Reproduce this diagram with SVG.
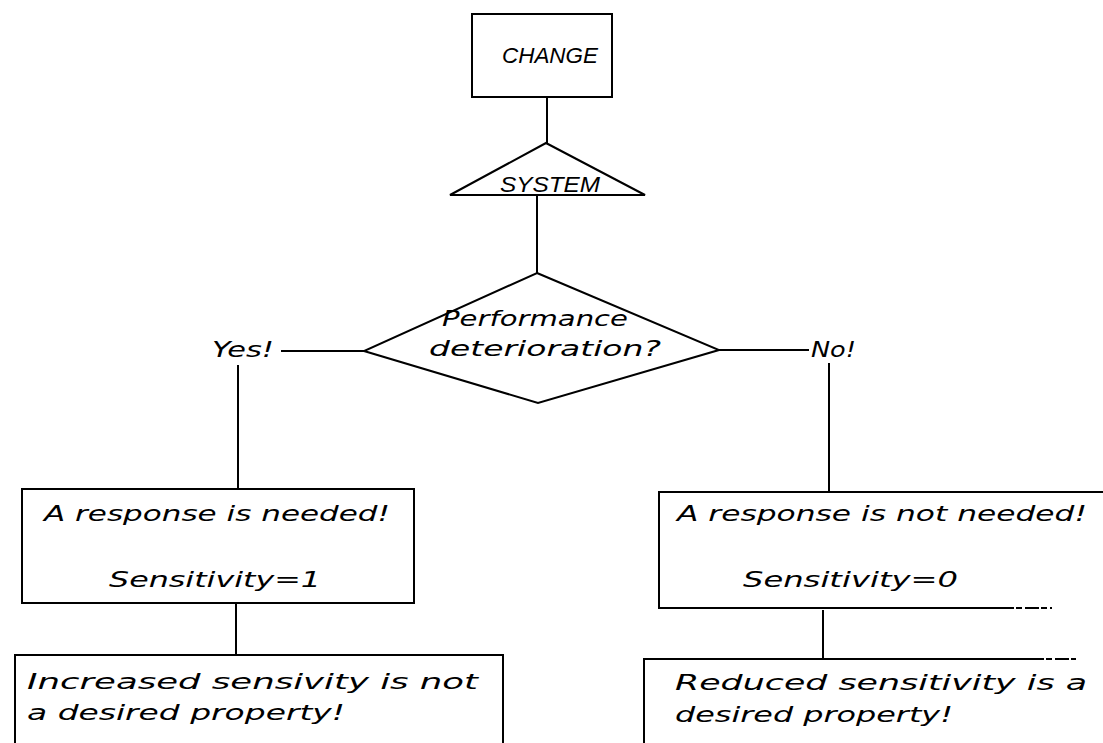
<svg xmlns="http://www.w3.org/2000/svg" width="1103" height="743" viewBox="0 0 1103 743">
  <style>
    .ln { stroke: #000; stroke-width: 2; fill: none; stroke-linejoin: miter; }
    .fade { stroke: #000; stroke-width: 2; fill: none; stroke-dasharray: 14 2 6 3; }
    .tx { font-family: "DejaVu Sans", "Liberation Sans", sans-serif; font-style: oblique; fill: #000; font-size: 21px; }
    .cap { font-family: "Liberation Sans", "DejaVu Sans", sans-serif; font-style: italic; fill: #000; font-size: 22px; }
  </style>
  <rect width="1103" height="743" fill="#fff"/>

  <g id="connectors">
    <line class="ln" x1="547" y1="97" x2="547" y2="143"/>
    <line class="ln" x1="537" y1="195" x2="537" y2="273"/>
    <line class="ln" x1="281" y1="351" x2="364" y2="351"/>
    <line class="ln" x1="719" y1="350" x2="809" y2="350"/>
    <line class="ln" x1="238" y1="365" x2="238" y2="489"/>
    <line class="ln" x1="829" y1="363" x2="829" y2="492"/>
    <line class="ln" x1="236" y1="603" x2="236" y2="656"/>
    <line class="ln" x1="823" y1="610" x2="823" y2="659"/>
  </g>

  <g id="change">
    <rect class="ln" x="472" y="14" width="140" height="83"/>
    <text class="cap" x="502" y="63" textLength="96" lengthAdjust="spacingAndGlyphs">CHANGE</text>
  </g>

  <g id="system">
    <polygon class="ln" points="546,143 645,195 450,195"/>
    <text class="cap" x="500" y="192" textLength="100" lengthAdjust="spacingAndGlyphs" font-size="23">SYSTEM</text>
  </g>

  <g id="decision">
    <polygon class="ln" points="537,273 719,350 538,403 364,351"/>
    <text class="tx" x="442" y="326" textLength="186" lengthAdjust="spacingAndGlyphs">Performance</text>
    <text class="tx" x="429" y="356" textLength="232" lengthAdjust="spacingAndGlyphs">deterioration?</text>
  </g>

  <g id="yes">
    <text class="tx" x="212" y="357" textLength="62" lengthAdjust="spacingAndGlyphs">Yes!</text>
  </g>

  <g id="no">
    <text class="tx" x="811" y="357" textLength="45" lengthAdjust="spacingAndGlyphs">No!</text>
  </g>

  <g id="response-needed">
    <rect class="ln" x="22" y="489" width="392" height="114"/>
    <text class="tx" x="44" y="521" textLength="346" lengthAdjust="spacingAndGlyphs">A response is needed!</text>
    <text class="tx" x="109" y="587" textLength="212" lengthAdjust="spacingAndGlyphs">Sensitivity=1</text>
  </g>

  <g id="response-not-needed">
    <polyline class="ln" points="1103,492 659,492 659,608 1000,608"/>
    <line class="fade" x1="1000" y1="608" x2="1052" y2="608"/>
    <text class="tx" x="677" y="521" textLength="410" lengthAdjust="spacingAndGlyphs">A response is not needed!</text>
    <text class="tx" x="743" y="587" textLength="215" lengthAdjust="spacingAndGlyphs">Sensitivity=0</text>
  </g>

  <g id="increased">
    <polyline class="ln" points="15,743 15,655 503,655 503,743"/>
    <text class="tx" x="27" y="689" textLength="451" lengthAdjust="spacingAndGlyphs">Increased  sensivity is not</text>
    <text class="tx" x="27" y="720" textLength="318" lengthAdjust="spacingAndGlyphs">a desired property!</text>
  </g>

  <g id="reduced">
    <polyline class="ln" points="644,743 644,659 1030,659"/>
    <line class="fade" x1="1030" y1="659" x2="1076" y2="659"/>
    <text class="tx" x="675" y="690" textLength="412" lengthAdjust="spacingAndGlyphs">Reduced sensitivity is  a</text>
    <text class="tx" x="675" y="722" textLength="278" lengthAdjust="spacingAndGlyphs">desired property!</text>
  </g>
</svg>
